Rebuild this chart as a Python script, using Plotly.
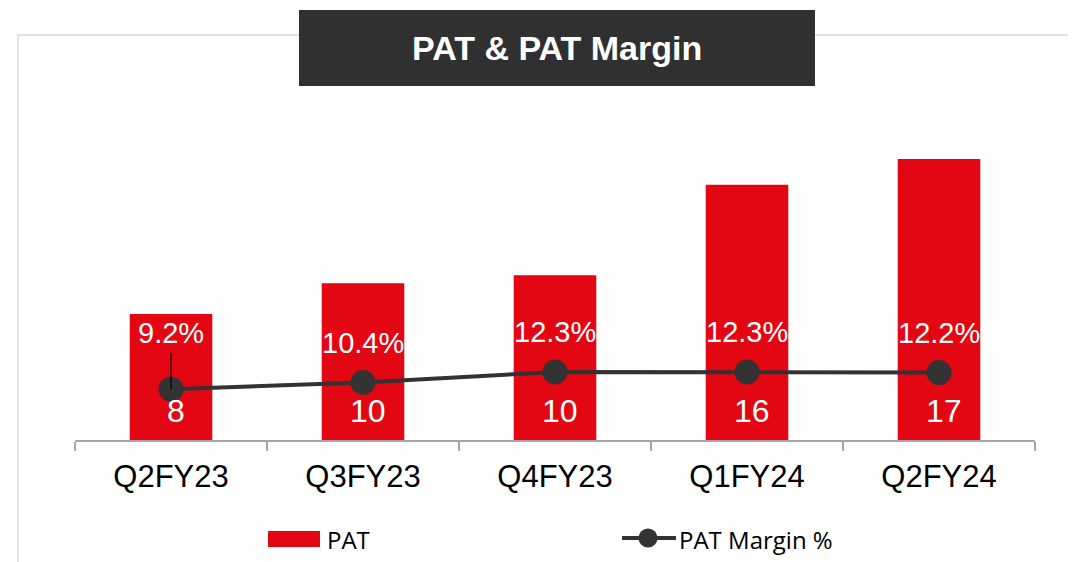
import plotly.graph_objects as go

# ---- data ----
quarters = ["Q2FY23", "Q3FY23", "Q4FY23", "Q1FY24", "Q2FY24"]
pat_values = [7.8, 9.7, 10.2, 15.8, 17.4]
pat_labels = ["8", "10", "10", "16", "17"]
margin_values = [9.2, 10.4, 12.3, 12.3, 12.2]
margin_labels = ["9.2%", "10.4%", "12.3%", "12.3%", "12.2%"]

RED = "#E30613"
DARK = "#333333"
FONT = "Liberation Sans, Arial, sans-serif"
LEGFONT = "Open Sans, sans-serif"

# page has an 8px body margin; figure is sized to fit the viewport
OFF = 8
W, H = 1076 - OFF, 562 - OFF
L, T = 75 - OFF, 100 - OFF
R = W - (1035 - OFF)
B = H - (440 - OFF)
PW, PH = W - L - R, H - T - B


def px(xp):
    return (xp - OFF - L) / PW


def py(yp):
    return (H - B - (yp - OFF)) / PH


fig = go.Figure()
fig.add_trace(go.Bar(
    x=quarters, y=pat_values, name="PAT",
    marker=dict(color=RED, line=dict(width=0)),
    yaxis="y", hoverinfo="x+y",
))
fig.add_trace(go.Scatter(
    x=quarters, y=margin_values, name="PAT Margin %",
    mode="lines+markers",
    line=dict(color=DARK, width=4),
    marker=dict(color=DARK, size=25),
    yaxis="y2",
))

annotations = []
# bar value labels
for q, lab in zip(quarters, pat_labels):
    annotations.append(dict(
        x=q, y=0, xref="x", yref="y", text=lab, showarrow=False,
        yanchor="middle", yshift=29, xshift=5,
        font=dict(family=FONT, size=32, color="white"),
    ))
# margin labels
for i, (q, v, lab) in enumerate(zip(quarters, margin_values, margin_labels)):
    if i == 0:
        annotations.append(dict(
            x=q, y=v, xref="x", yref="y2", text=lab, showarrow=True,
            ax=0, ay=-56, arrowhead=0, arrowwidth=1.2, arrowcolor="black",
            standoff=0, startstandoff=2,
            font=dict(family=FONT, size=29, color="white"),
        ))
    else:
        annotations.append(dict(
            x=q, y=v, xref="x", yref="y2", text=lab, showarrow=False,
            yanchor="middle", yshift=40,
            font=dict(family=FONT, size=29, color="white"),
        ))

# title
annotations.append(dict(
    x=px(557), y=py(48), xref="paper", yref="paper",
    text="<b>PAT & PAT Margin</b>", showarrow=False,
    xanchor="center", yanchor="middle",
    font=dict(family=FONT, size=34, color="white"),
))
# legend texts
annotations.append(dict(
    x=px(325), y=py(539), xref="paper", yref="paper", text="PAT",
    showarrow=False, xanchor="left", yanchor="middle",
    font=dict(family=LEGFONT, size=24, color="black"),
))
annotations.append(dict(
    x=px(677), y=py(539), xref="paper", yref="paper", text="PAT Margin %",
    showarrow=False, xanchor="left", yanchor="middle",
    font=dict(family=LEGFONT, size=24, color="black"),
))

shapes = [
    # outer frame (left + top)
    dict(type="rect", xref="paper", yref="paper",
         x0=px(18), x1=px(1100), y0=py(620), y1=py(35),
         line=dict(color="#D9D9D9", width=1.5), fillcolor="rgba(0,0,0,0)",
         layer="below"),
    # title box
    dict(type="rect", xref="paper", yref="paper",
         x0=px(299), x1=px(815), y0=py(86), y1=py(10),
         line=dict(width=0), fillcolor="#303030", layer="above"),
    # legend: PAT swatch
    dict(type="rect", xref="paper", yref="paper",
         x0=px(268), x1=px(320), y0=py(547), y1=py(531),
         line=dict(width=0), fillcolor=RED),
    # legend: margin line
    dict(type="line", xref="paper", yref="paper",
         x0=px(622), x1=px(676), y0=py(538), y1=py(538),
         line=dict(color=DARK, width=4)),
    dict(type="circle", xref="paper", yref="paper",
         x0=px(638.5), x1=px(657.5), y0=py(547.5), y1=py(528.5),
         line=dict(width=0), fillcolor=DARK),
]

fig.update_layout(
    width=W, height=H,
    margin=dict(l=L, r=R, t=T, b=B, pad=0),
    paper_bgcolor="white", plot_bgcolor="white",
    showlegend=False,
    bargap=0.57,
    xaxis=dict(
        type="category", showline=True, linecolor="#A6A6A6", linewidth=1.5,
        ticks="outside", tickson="boundaries", ticklen=9, tickcolor="#A6A6A6",
        tickwidth=1.5, showgrid=False,
        tickfont=dict(family=FONT, size=31, color="black"),
        ticklabelstandoff=8,
    ),
    yaxis=dict(range=[0, 21.05], visible=False, showgrid=False, zeroline=False),
    yaxis2=dict(range=[0, 61.5], overlaying="y", visible=False,
                showgrid=False, zeroline=False),
    annotations=annotations,
    shapes=shapes,
)

fig.write_html("out.html")
